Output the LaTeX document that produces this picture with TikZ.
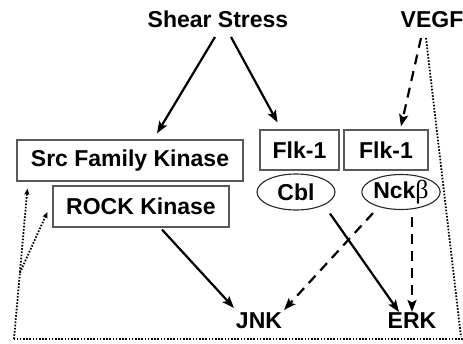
\documentclass[tikz,border=0pt]{standalone}
\usepackage{fontspec}
\setmainfont{Liberation Sans}
\newfontfamily\greekserif{Liberation Serif}
\usetikzlibrary{arrows.meta,calc,shapes.geometric}
\begin{document}
\begin{tikzpicture}[x=1pt,y=-1pt,
  bigfont/.style={font=\fontsize{23}{27}\selectfont\bfseries},
  lbl/.style={bigfont, inner sep=0pt, anchor=base},
  boxnode/.style={draw=black!65, line width=1.2pt, bigfont, inner sep=0pt, minimum height=41pt},
  ellnode/.style={ellipse, draw=black!85, line width=1.1pt, bigfont, inner sep=0pt, minimum height=36pt},
  arr/.style={line width=2.2pt, -{Stealth[length=12pt,width=9pt,inset=2.5pt]}},
  darr/.style={arr, dash pattern=on 10pt off 7pt},
  dotline/.style={line width=1.8pt, dash pattern=on 1.6pt off 1.6pt},
  dotarr/.style={dotline, -{Stealth[length=6pt,width=5pt,inset=1pt]}},
]
\useasboundingbox (0,0) rectangle (463,343);

% text labels
\node[lbl] (ss) at (218,27) {Shear Stress};
\node[lbl] (vegf) at (432,27) {VEGF};
\node[lbl] (jnk) at (259,328) {JNK};
\node[lbl] (erk) at (412,328) {ERK};

% boxes
\node[boxnode, minimum width=226pt] (src) at (130,160.5) {Src Family Kinase};
\node[boxnode, minimum width=176pt] (rock) at (141,206.5) {ROCK Kinase};
\node[boxnode, minimum width=79pt, minimum height=40pt] (flkL) at (299.5,150) {Flk-1};
\node[boxnode, minimum width=84pt, minimum height=40pt] (flkR) at (386,150) {Flk-1};

% ellipses
\node[ellnode, minimum width=78pt] (cbl) at (296,192) {Cbl};
\node[ellnode, minimum width=63pt, minimum height=35pt] (nck) at (401,192) {Nck{\greekserif\mdseries\fontsize{26}{27}\selectfont β}};

% solid arrows
\draw[arr] ($(ss.base)+(-3,10)$) -- ($(src.north)+(27,-6)$);
\draw[arr] ($(ss.base)+(13,10)$) -- ($(flkL.north)+(-22,-7)$);
\draw[arr] ($(rock.south)+(21,2)$) -- ($(jnk.north)+(-25,-4)$);
\draw[arr] ($(cbl.south)+(34,3)$) -- ($(erk.north)+(-13,0)$);

% dashed arrows
\draw[darr] ($(vegf.base)+(-11,11)$) -- ($(flkR.north)+(15,-3)$);
\draw[darr] ($(nck.south)+(-28,3)$) -- ($(jnk.north)+(25,-2)$);
\draw[darr] ($(nck.south)+(11,7)$) -- ($(erk.north)+(0,0)$);

% dotted lines
\coordinate (cornerL) at (14,339);
\coordinate (cornerR) at (463,339);
\coordinate (topR) at (426,38);
\coordinate (slantEnd) at (461,337);
\coordinate (srcTip) at ($(src.south west)+(11,7)$);
\coordinate (fork) at ($(cornerL)!0.44!(srcTip)$);
\draw[dotline] (topR) -- (slantEnd);
\draw[dotline] (cornerR) -- (cornerL);
\draw[dotarr] (cornerL) -- (srcTip);
\draw[dotarr] (fork) -- ($(rock.west)+(-5,5.5)$);
\end{tikzpicture}
\end{document}
